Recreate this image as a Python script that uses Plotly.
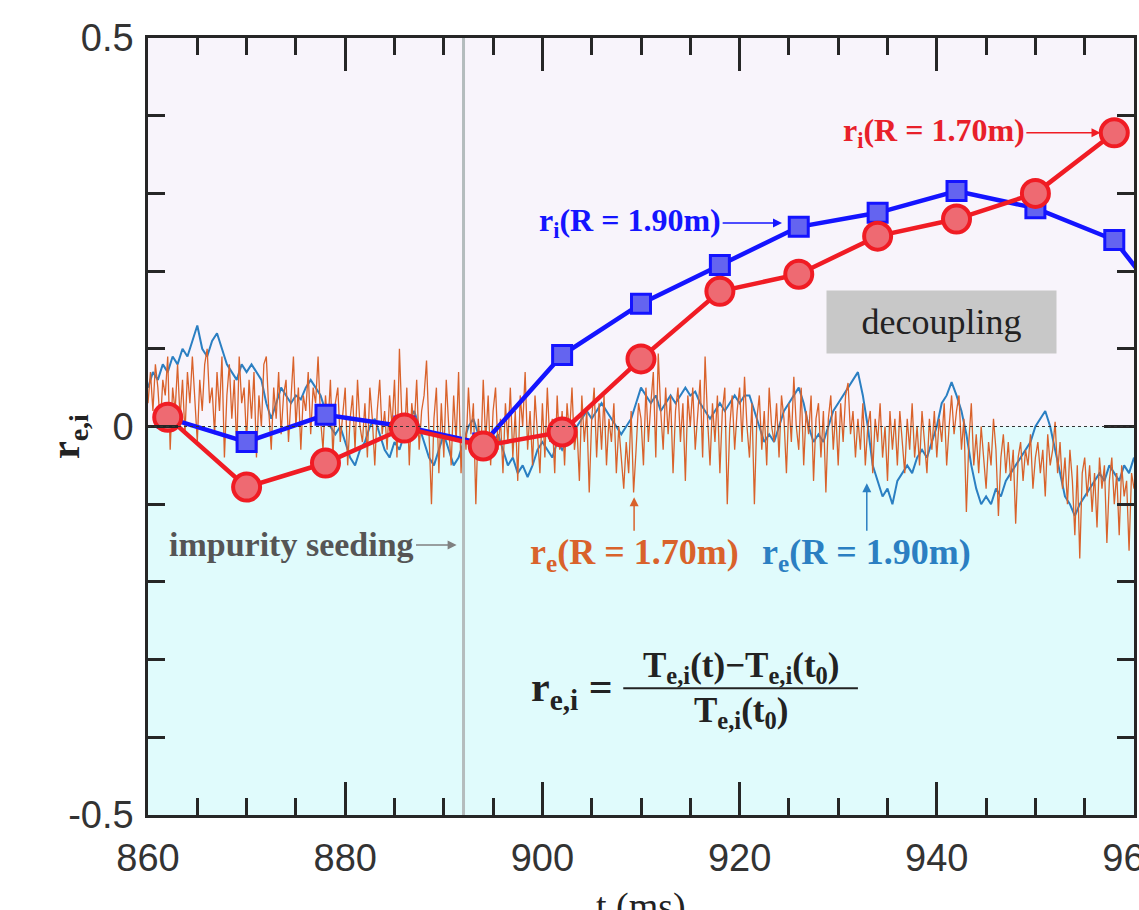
import numpy as np
import plotly.graph_objects as go

# ---------------- data ----------------
T_RI = [862, 870, 878, 886, 894, 902, 910, 918, 926, 934, 942, 950, 958]
RI_170 = [0.012, -0.078, -0.047, -0.002, -0.025, -0.007, 0.087, 0.174, 0.196, 0.245, 0.267, 0.300, 0.378]
T_RI_190 = [862, 870, 878, 886, 894, 902, 910, 918, 926, 934, 942, 950, 958, 966]
RI_190 = [0.011, -0.020, 0.015, 0.000, -0.022, 0.092, 0.158, 0.208, 0.257, 0.275, 0.303, 0.281, 0.240, 0.110]

# r_e at R = 1.90 m, sampled every 0.5 ms from 860 to 960 ms
RE_190 = [
    0.05, 0.07, 0.06, 0.08, 0.07, 0.09, 0.08, 0.10, 0.09, 0.11,   # 860-864.5
    0.13, 0.10, 0.09, 0.11, 0.12, 0.10, 0.08, 0.07, 0.06, 0.08,   # 865-869.5
    0.07, 0.08, 0.07, 0.06, 0.03, 0.01, 0.03, 0.05, 0.04, 0.03,   # 870-874.5
    0.04, 0.035, 0.05, 0.06, 0.05, 0.04, 0.02, 0.00, -0.01, 0.00,  # 875-879.5
    -0.02, -0.04, -0.05, -0.03, -0.02, 0.00, 0.01, -0.01, -0.03, -0.04,  # 880-884.5
    -0.02, -0.03, -0.01, 0.01, 0.02, 0.00, -0.02, -0.04, -0.05, -0.03,  # 885-889.5
    -0.01, -0.03, -0.05, -0.04, -0.02, 0.00, 0.01, -0.01, -0.02, -0.03,  # 890-894.5
    -0.02, -0.01, -0.03, -0.05, -0.04, -0.06, -0.05, -0.065, -0.05, -0.03,  # 895-899.5
    -0.02, -0.03, -0.04, -0.02, -0.03, -0.02, -0.01, 0.00, 0.01, 0.02,  # 900-904.5
    0.01, 0.02, 0.03, 0.02, 0.01, 0.00, -0.01, 0.00, 0.01, 0.03,   # 905-909.5
    0.05, 0.04, 0.03, 0.04, 0.02, 0.03, 0.04, 0.03, 0.04, 0.05,   # 910-914.5
    0.04, 0.045, 0.03, 0.02, 0.01, 0.02, 0.03, 0.02, 0.03, 0.04,  # 915-919.5
    0.03, 0.04, 0.04, 0.02, 0.00, -0.02, -0.01, -0.02, 0.00, 0.02,  # 920-924.5
    0.03, 0.04, 0.05, 0.03, 0.00, -0.02, -0.01, -0.02, 0.00, 0.02,  # 925-929.5
    0.03, 0.04, 0.05, 0.06, 0.07, 0.04, 0.00, -0.05, -0.07, -0.09,  # 930-934.5
    -0.08, -0.10, -0.07, -0.06, -0.05, -0.06, -0.04, -0.03, -0.04, -0.02,  # 935-939.5
    0.00, 0.03, 0.04, 0.057, 0.04, 0.02, -0.01, -0.05, -0.08, -0.10,  # 940-944.5
    -0.09, -0.10, -0.08, -0.09, -0.07, -0.06, -0.05, -0.04, -0.03, -0.02,  # 945-949.5
    0.00, 0.01, 0.02, 0.00, -0.03, -0.06, -0.09, -0.10, -0.115, -0.10,  # 950-954.5
    -0.09, -0.08, -0.07, -0.06, -0.07, -0.05, -0.06, -0.07, -0.05, -0.06,  # 955-959.5
    -0.04,  # 960
]

# r_e at R = 1.70 m, sampled every 0.25 ms from 860 to 960 ms
RE_170 = [
    0.03, 0.07, 0.02, 0.08, 0.05, 0.00, 0.06, 0.04,      # 860
    0.09, -0.03, 0.05, 0.02, 0.08, 0.01, 0.06, -0.01,    # 862
    0.07, 0.03, 0.09, 0.04, -0.02, 0.06, 0.02, 0.08,     # 864
    0.10, 0.03, 0.05, -0.01, 0.07, 0.02, 0.09, -0.04,    # 866
    0.04, 0.08, 0.01, 0.06, -0.03, 0.09, 0.03, 0.05,     # 868
    -0.02, 0.06, 0.01, 0.07, -0.04, 0.04, 0.00, 0.08,    # 870
    0.09, 0.02, -0.03, 0.05, 0.01, 0.07, -0.01, 0.04,    # 872
    0.06, -0.02, 0.03, 0.09, 0.00, 0.05, -0.03, 0.04,    # 874
    0.02, 0.07, -0.01, 0.05, 0.03, 0.09, 0.01, -0.03,    # 876
    0.04, 0.00, 0.06, -0.04, 0.03, 0.05, -0.02, 0.02,    # 878
    0.05, -0.05, 0.01, 0.04, -0.03, 0.06, 0.00, -0.02,   # 880
    0.03, -0.04, 0.05, 0.01, -0.05, 0.02, 0.06, -0.01,   # 882
    0.02, -0.03, 0.04, 0.00, 0.06, -0.04, 0.10, 0.01,    # 884
    -0.02, 0.05, -0.05, 0.03, 0.00, 0.06, -0.03, 0.02,   # 886
    0.04, 0.085, -0.02, -0.10, 0.01, 0.05, -0.06, 0.03,  # 888
    -0.04, 0.06, 0.00, -0.05, 0.04, -0.02, 0.07, -0.06,  # 890
    0.02, -0.03, 0.05, -0.01, 0.03, -0.10, 0.01, -0.04,  # 892
    0.06, -0.02, 0.04, -0.05, 0.02, 0.05, -0.03, 0.01,   # 894
    -0.06, 0.03, -0.02, 0.05, -0.04, 0.02, -0.07, 0.04,  # 896
    0.00, 0.07, -0.03, 0.02, -0.05, 0.04, -0.01, -0.06,  # 898
    0.03, -0.04, 0.05, -0.02, 0.01, -0.06, 0.04, -0.03,  # 900
    0.02, -0.05, 0.03, -0.01, 0.05, -0.03, 0.00, -0.07,  # 902
    0.04, -0.02, 0.02, -0.085, 0.01, 0.05, -0.04, 0.03,  # 904
    -0.03, 0.04, -0.05, 0.01, -0.02, 0.03, -0.06, 0.00,  # 906
    -0.04, -0.08, -0.02, -0.06, 0.02, -0.085, -0.03, 0.03,  # 908
    0.01, -0.05, 0.05, -0.02, 0.03, 0.07, -0.04, 0.094,  # 910
    0.02, -0.03, 0.05, -0.01, 0.04, -0.06, 0.02, 0.05,   # 912
    -0.02, 0.03, -0.07, 0.04, 0.00, 0.05, -0.03, 0.02,   # 914
    0.06, -0.04, 0.09, 0.01, -0.05, 0.03, -0.02, 0.04,   # 916
    -0.06, 0.02, 0.05, -0.10, 0.00, 0.04, -0.03, 0.02,   # 918
    0.05, -0.02, 0.064, 0.00, -0.04, 0.03, -0.10, 0.01,  # 920
    0.04, -0.03, 0.02, -0.05, 0.05, 0.00, -0.02, 0.03,   # 922
    -0.04, 0.04, 0.01, -0.06, 0.03, -0.02, 0.064, 0.00,  # 924
    -0.03, 0.05, -0.05, 0.02, -0.01, 0.04, -0.07, 0.01,  # 926
    0.03, -0.04, 0.02, -0.085, 0.01, 0.04, -0.03, 0.02,  # 928
    -0.05, 0.03, -0.02, 0.04, 0.056, -0.01, 0.02, -0.04, # 930
    0.01, -0.03, 0.03, -0.05, 0.00, 0.02, -0.06, 0.01,   # 932
    -0.02, 0.03, -0.04, 0.00, -0.07, 0.02, -0.03, 0.01,  # 934
    -0.05, 0.02, -0.02, -0.06, 0.01, -0.03, 0.03, -0.04, # 936
    0.00, -0.05, 0.02, -0.02, -0.06, 0.01, -0.03, 0.02,  # 938
    -0.04, 0.01, -0.02, 0.03, -0.05, 0.00, 0.04, -0.01,  # 940
    0.02, 0.04, -0.03, 0.01, -0.11, -0.02, 0.03, -0.05,  # 942
    -0.01, -0.06, 0.00, -0.04, -0.08, -0.02, -0.05, 0.01,  # 944
    -0.03, -0.115, -0.04, -0.01, -0.06, -0.02, -0.07, -0.03,  # 946
    -0.125, -0.04, -0.02, -0.07, -0.03, -0.05, -0.01, -0.08,  # 948
    -0.04, -0.02, -0.06, -0.03, -0.09, -0.01, -0.05, -0.03,   # 950
    0.006, -0.06, -0.02, -0.08, -0.04, -0.10, -0.03, -0.07,   # 952
    -0.14, -0.05, -0.17, -0.06, -0.04, -0.09, -0.05, -0.11,   # 954
    -0.06, -0.13, -0.04, -0.08, -0.05, -0.15, -0.07, -0.04,   # 956
    -0.10, -0.06, -0.14, -0.05, -0.09, -0.07, -0.16, -0.06,   # 958
    -0.08,  # 960
]

T_RE_190 = list(860 + 0.5 * np.arange(len(RE_190)))
T_RE_170 = list(860 + 0.25 * np.arange(len(RE_170)))

SEED_T = 892
X_RANGE = [860, 960]
Y_RANGE = [-0.5, 0.5]
X_TICKS = [860, 880, 900, 920, 940, 960]
X_TICKTEXT = ["860", "880", "900", "920", "940", "960"]
Y_TICKS = [-0.5, 0, 0.5]
Y_TICKTEXT = ["-0.5", "0", "0.5"]

# ---------------- figure ----------------
AX = "#262626"
SERIF = "Liberation Serif"
SANS = "Liberation Sans"

fig = go.Figure()

fig.add_trace(go.Scatter(x=T_RE_190, y=RE_190, mode="lines",
                         line=dict(color="#2b7fc2", width=2), showlegend=False))
fig.add_trace(go.Scatter(x=T_RE_170, y=RE_170, mode="lines",
                         line=dict(color="#d9622b", width=1.3), showlegend=False))
fig.add_trace(go.Scatter(x=T_RI_190, y=RI_190, mode="lines+markers",
                         line=dict(color="#1414ff", width=4.5),
                         marker=dict(symbol="square", size=19, color="#6464f0",
                                     line=dict(color="#1414ff", width=3)),
                         showlegend=False))
fig.add_trace(go.Scatter(x=T_RI, y=RI_170, mode="lines+markers",
                         line=dict(color="#f01c24", width=4.5),
                         marker=dict(symbol="circle", size=27, color="#ee6a72",
                                     line=dict(color="#f01c24", width=4)),
                         showlegend=False))

# background halves
fig.add_shape(type="rect", xref="paper", x0=0, x1=1, yref="y", y0=0, y1=0.5,
              fillcolor="#f8f4fb", line=dict(width=0), layer="below")
fig.add_shape(type="rect", xref="paper", x0=0, x1=1, yref="y", y0=-0.5, y1=0,
              fillcolor="#e0fbfc", line=dict(width=0), layer="below")
# zero dotted line
fig.add_shape(type="line", xref="paper", x0=0, x1=1, yref="y", y0=0, y1=0,
              line=dict(color="#333333", width=1, dash="dot"), layer="above")
# impurity seeding line
fig.add_shape(type="line", xref="x", x0=SEED_T, x1=SEED_T, yref="paper", y0=0, y1=1,
              line=dict(color="#b4bcbd", width=3), layer="above")
# fraction bar of the formula
fig.add_shape(type="line", xref="x", x0=908.2, x1=932.0, yref="y", y0=-0.337, y1=-0.337,
              line=dict(color="#222222", width=2), layer="above")

ann = []
ann.append(dict(x=956.6, y=0.378, ax=939.7, ay=0.378, axref="x", ayref="y", xref="x", yref="y",
                text="<b>r<sub>i</sub>(R = 1.70m)</b>", showarrow=True, arrowhead=2, arrowsize=1.2,
                arrowwidth=1.5, arrowcolor="#f01c24",
                font=dict(family=SERIF, size=32, color="#e8202a")))
ann.append(dict(x=924.3, y=0.262, ax=908.9, ay=0.262, axref="x", ayref="y", xref="x", yref="y",
                text="<b>r<sub>i</sub>(R = 1.90m)</b>", showarrow=True, arrowhead=2, arrowsize=1.2,
                arrowwidth=1.5, arrowcolor="#1414ff",
                font=dict(family=SERIF, size=32, color="#1414ff")))
ann.append(dict(x=891.3, y=-0.1525, ax=874.6, ay=-0.1525, axref="x", ayref="y", xref="x", yref="y",
                text="<b>impurity seeding</b>", showarrow=True, arrowhead=2, arrowsize=1.2,
                arrowwidth=1.5, arrowcolor="#808080",
                font=dict(family=SERIF, size=34, color="#555555")))
ann.append(dict(x=909.3, y=-0.091, ax=909.3, ay=-0.165, axref="x", ayref="y", xref="x", yref="y",
                text="<b>r<sub>e</sub>(R = 1.70m)</b>", showarrow=True, arrowhead=2, arrowsize=1.2,
                arrowwidth=1.5, arrowcolor="#d9622b",
                font=dict(family=SERIF, size=36, color="#d9622b")))
ann.append(dict(x=932.9, y=-0.073, ax=932.9, ay=-0.165, axref="x", ayref="y", xref="x", yref="y",
                text="<b>r<sub>e</sub>(R = 1.90m)</b>", showarrow=True, arrowhead=2, arrowsize=1.2,
                arrowwidth=1.5, arrowcolor="#2b7fc2",
                font=dict(family=SERIF, size=36, color="#2b7fc2")))
ann.append(dict(x=940.5, y=0.1345, xref="x", yref="y", text="decoupling", showarrow=False,
                bgcolor="#c8c8c8", width=227, height=60,
                font=dict(family=SERIF, size=36, color="#222222")))
# formula
ann.append(dict(x=903.0, y=-0.339, xref="x", yref="y", text="<b>r<sub>e,i</sub> =</b>",
                showarrow=False, font=dict(family=SERIF, size=42, color="#222222")))
ann.append(dict(x=920.1, y=-0.310, xref="x", yref="y",
                text="<b>T<sub>e,i</sub>(t)−T<sub>e,i</sub>(t<sub>0</sub>)</b>",
                showarrow=False, font=dict(family=SERIF, size=35, color="#222222")))
ann.append(dict(x=920.1, y=-0.368, xref="x", yref="y",
                text="<b>T<sub>e,i</sub>(t<sub>0</sub>)</b>",
                showarrow=False, font=dict(family=SERIF, size=35, color="#222222")))
# axis titles
ann.append(dict(x=-0.081, y=0.4865, xref="paper", yref="paper", xanchor="center", yanchor="middle",
                text="<b>r<sub>e,i</sub></b>",
                textangle=-90, showarrow=False, font=dict(family=SERIF, size=40, color="#222222")))
ann.append(dict(x=0.5, y=-0.088, xref="paper", yref="paper", yanchor="top", text="t (ms)",
                showarrow=False, font=dict(family=SERIF, size=38, color="#222222")))

fig.update_layout(
    width=1139, height=910,
    margin=dict(l=148, r=5, t=38, b=95),
    paper_bgcolor="white", plot_bgcolor="#f8f4fb",
    template="none",
    annotations=ann,
    xaxis=dict(range=X_RANGE, tickmode="array", tickvals=X_TICKS, ticktext=X_TICKTEXT,
               ticks="inside", ticklen=33, tickwidth=2.5, tickcolor=AX,
               showline=True, linecolor=AX, linewidth=2.5, mirror="allticks",
               showgrid=False, zeroline=False, automargin=False, ticklabelstandoff=8,
               ticklabeloverflow="allow",
               tickfont=dict(family=SANS, size=38, color="#333333"),
               minor=dict(dtick=5, tick0=860, ticks="inside", ticklen=17, tickwidth=2.5,
                          tickcolor=AX, showgrid=False)),
    yaxis=dict(range=Y_RANGE, tickmode="array", tickvals=Y_TICKS, ticktext=Y_TICKTEXT,
               ticks="inside", ticklen=30, tickwidth=2.5, tickcolor=AX,
               showline=True, linecolor=AX, linewidth=2.5, mirror="allticks",
               showgrid=False, zeroline=False, automargin=False, ticklabelstandoff=4,
               ticklabeloverflow="allow",
               tickfont=dict(family=SANS, size=38, color="#333333"),
               minor=dict(dtick=0.1, tick0=0, ticks="inside", ticklen=17, tickwidth=2.5,
                          tickcolor=AX, showgrid=False)),
)

fig.write_html("out.html")
